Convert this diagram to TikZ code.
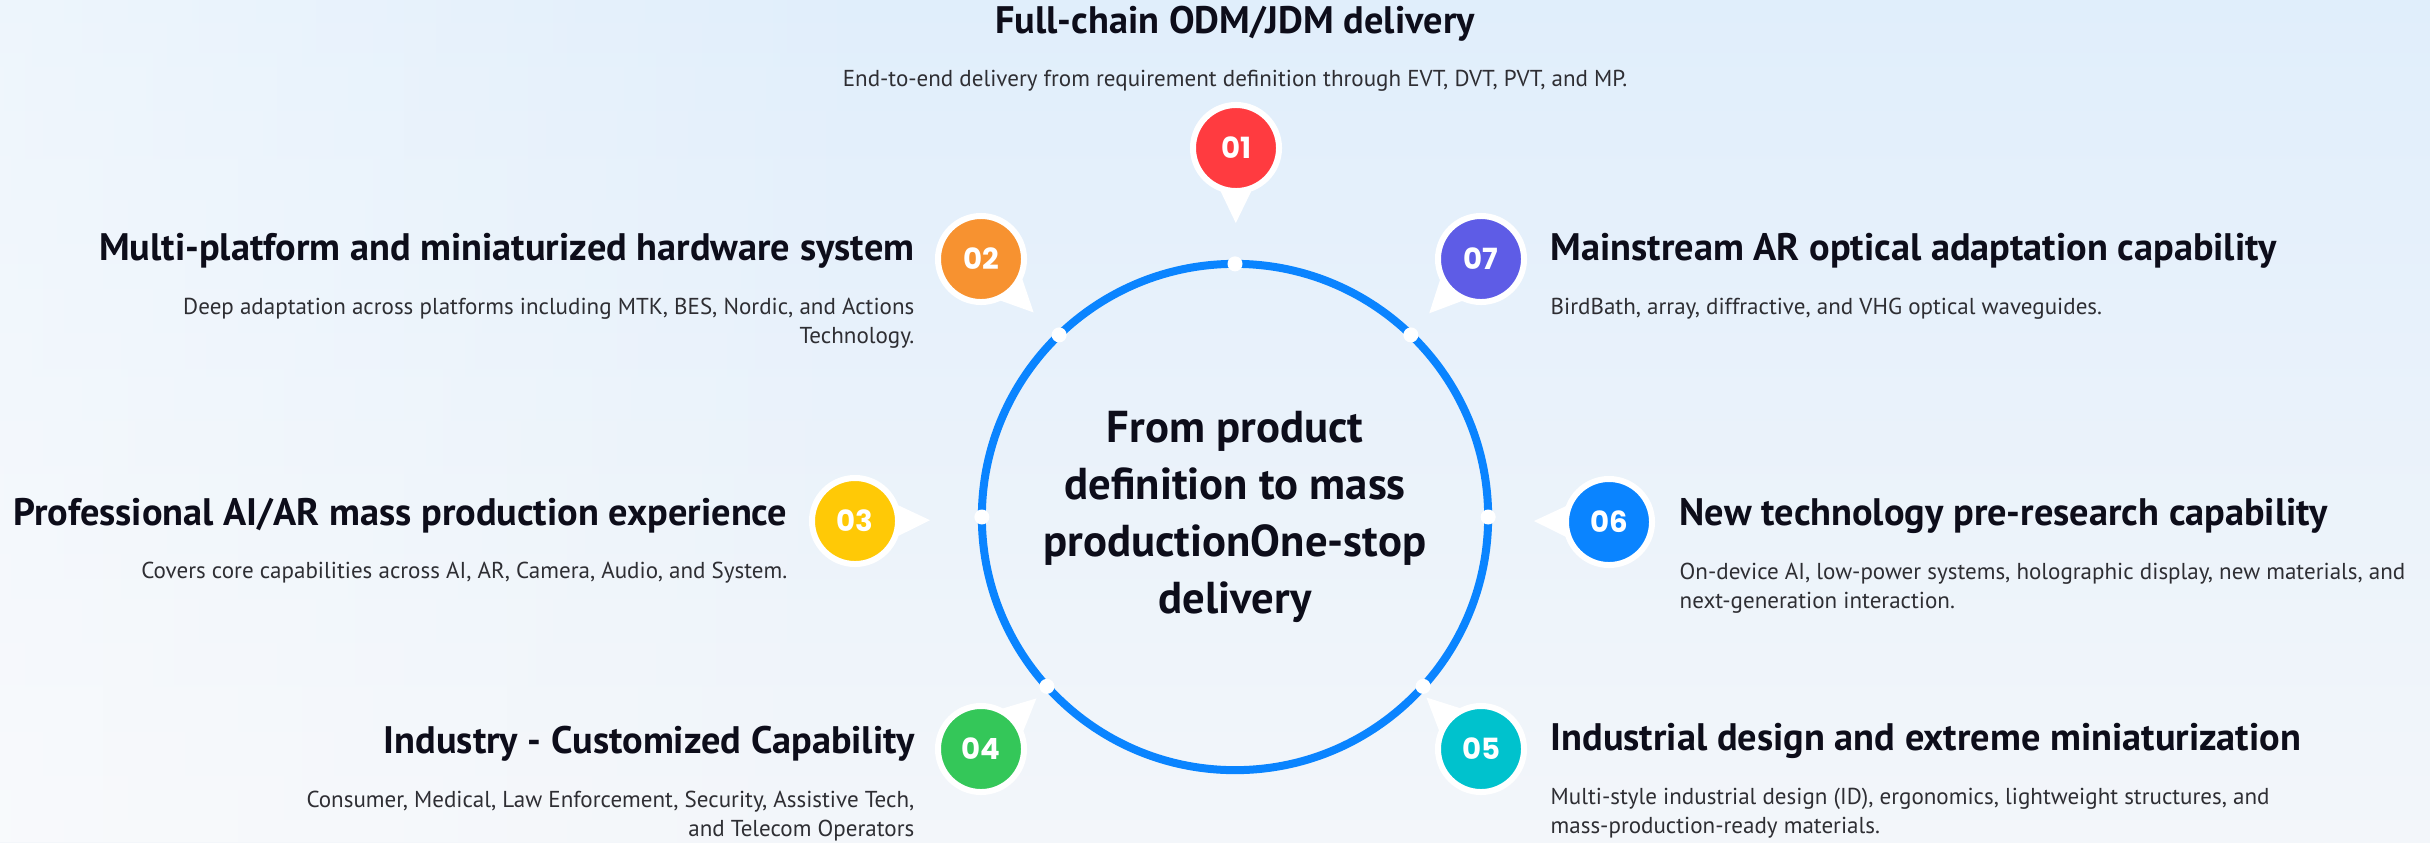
\documentclass[tikz,border=0pt]{standalone}
\usepackage{fontspec}
\setmainfont{PT Sans}
\newfontfamily\numfont{Poppins}
\usetikzlibrary{calc,fadings}
\definecolor{hubblue}{HTML}{0A84FF}
\definecolor{headcol}{HTML}{0D0D1A}
\definecolor{desccol}{HTML}{2E2E33}
\definecolor{bgtop}{HTML}{E0EEFB}
\definecolor{bgbot}{HTML}{F3F6FA}
\definecolor{cRed}{HTML}{FF3B40}
\definecolor{cOrange}{HTML}{F79230}
\definecolor{cYellow}{HTML}{FFC906}
\definecolor{cGreen}{HTML}{34C759}
\definecolor{cTeal}{HTML}{00C2CD}
\definecolor{cBlue}{HTML}{0A84FF}
\definecolor{cPurple}{HTML}{5E5CE6}
\begin{document}
\begin{tikzpicture}[x=0.01cm, y=-0.01cm, line join=miter,
	badge/.style={circle, draw=white, line width=0.06cm, minimum size=0.86cm, inner sep=0pt, text=white, font=\numfont\bfseries\fontsize{8.3}{9}\selectfont},
	head/.style={font=\bfseries\fontsize{10.9}{13}\selectfont, text=headcol, inner sep=0pt},
	desc/.style={font=\fontsize{6.55}{8.25}\selectfont, text=desccol, inner sep=0pt},
	pin/.style={fill=white}]
	% nền
	\shade[top color=bgtop, bottom color=bgbot] (0,0) rectangle (2430,842);
	\fill[white, opacity=0.45, path fading=east] (0,0) rectangle (900,842);
	\useasboundingbox (0,0) rectangle (2430,842);
	
	% vòng tròn giữa
	\node[circle, draw=hubblue, line width=0.08cm, minimum size=5.06cm, outer sep=0pt, align=center, text=headcol, font=\bfseries\fontsize{12.7}{16.2}\selectfont] (hub) at (1235,517) {From product\\definition to mass\\productionOne-stop\\delivery};
	\foreach \a in {90,46,0,318,222,180,134}
		\fill[white] (hub.\a) circle (0.075cm);
	
	% 01
	\node[badge, fill=cRed] (b1) at (1236,148) {01};
	\node[head] (h1) at (1235,24) {Full-chain ODM/JDM delivery};
	\node[desc] (d1) at (1235,81) {End-to-end delivery from requirement definition through EVT, DVT, PVT, and MP.};
	
	% 02
	\node[badge, fill=cOrange] (b2) at (981,259) {02};
	\node[head, anchor=east] (h2) at (915,251) {Multi-platform and miniaturized hardware system};
	\node[desc, anchor=east, align=right] (d2) at (915,323) {Deep adaptation across platforms including MTK, BES, Nordic, and Actions\\Technology.};
	
	% 03
	\node[badge, fill=cYellow] (b3) at (855,521) {03};
	\node[head, anchor=east] (h3) at (788,516) {Professional AI/AR mass production experience};
	\node[desc, anchor=east] (d3) at (788,573) {Covers core capabilities across AI, AR, Camera, Audio, and System.};
	
	% 04
	\node[badge, fill=cGreen] (b4) at (981,749) {04};
	\node[head, anchor=east] (h4) at (915,744) {Industry - Customized Capability};
	\node[desc, anchor=east, align=right] (d4) at (915,816) {Consumer, Medical, Law Enforcement, Security, Assistive Tech,\\and Telecom Operators};
	
	% 05
	\node[badge, fill=cTeal] (b5) at (1481,749) {05};
	\node[head, anchor=west] (h5) at (1550,741) {Industrial design and extreme miniaturization};
	\node[desc, anchor=west, align=left] (d5) at (1550,813) {Multi-style industrial design (ID), ergonomics, lightweight structures, and\\mass-production-ready materials.};
	
	% 06
	\node[badge, fill=cBlue] (b6) at (1609,522) {06};
	\node[head, anchor=west] (h6) at (1679,516) {New technology pre-research capability};
	\node[desc, anchor=west, align=left] (d6) at (1679,588) {On-device AI, low-power systems, holographic display, new materials, and\\next-generation interaction.};
	
	% 07
	\node[badge, fill=cPurple] (b7) at (1481,259) {07};
	\node[head, anchor=west] (h7) at (1550,251) {Mainstream AR optical adaptation capability};
	\node[desc, anchor=west] (d7) at (1550,309) {BirdBath, array, diffractive, and VHG optical waveguides.};
	
	% mũi nhọn chỉ vào vòng tròn
	\foreach \b in {b1,b2,b3,b4,b5,b6,b7}
		\fill[pin] ($(\b.center)!0.44cm!22:(hub.center)$) -- ($(\b.center)!0.75cm!(hub.center)$) -- ($(\b.center)!0.44cm!-22:(hub.center)$) -- cycle;
	
\end{tikzpicture}
\end{document}
